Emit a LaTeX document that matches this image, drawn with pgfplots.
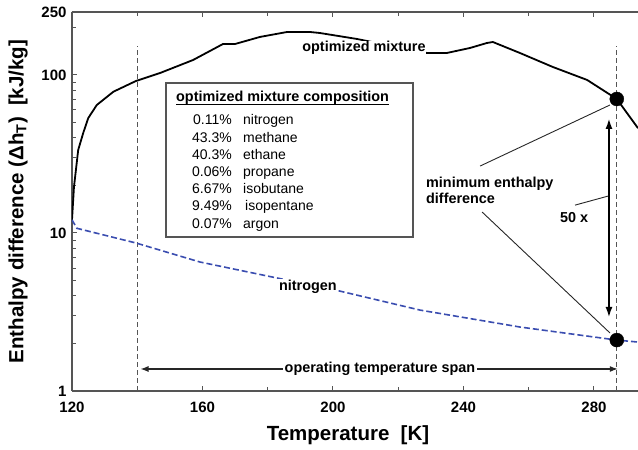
\documentclass[border=0pt]{standalone}
\usepackage{fontspec}
\setmainfont{Liberation Sans}
\usepackage{pgfplots}
\pgfplotsset{compat=1.18}
\usetikzlibrary{arrows.meta}

\definecolor{axisgray}{HTML}{555555}
\definecolor{ntwoblue}{HTML}{3A4DB0}

\newcommand{\annfont}{\fontsize{14.4}{16}\selectfont\bfseries}
\newcommand{\boxfont}{\fontsize{14}{16}\selectfont}

\begin{document}
\begin{tikzpicture}
\begin{semilogyaxis}[
  scale only axis, width=566pt, height=379pt,
  at={(0,0)}, anchor=south west,
  xmin=120, xmax=293.5, ymin=1, ymax=250,
  axis x line*=box, axis y line*=left,
  axis line style={axisgray, line width=1.2pt},
  tick style={axisgray, line width=1pt},
  major tick length=5pt, minor tick length=4pt,
  xtick={120,160,200,240,280},
  xticklabels={120,160,200,240,280},
  minor xtick={140,180,220,260},
  ytick={1,10,100,250},
  yticklabels={1,10,100,250},
  minor ytick={2,3,4,5,6,7,8,9,20,30,40,50,60,70,80,90,200},
  /pgf/number format/assume math mode=true,
  tick label style={font=\fontsize{15}{18}\selectfont\bfseries},
  yticklabel style={xshift=-2pt},
  xticklabel style={yshift=-7pt},
  every axis x label/.style={at={(axis description cs:0.4876,-0.1161)}, anchor=center},
  every axis y label/.style={at={(axis description cs:-0.0954,0.5)}, rotate=90, anchor=center},
  label style={font=\fontsize{20.5}{24}\selectfont\bfseries},
  xlabel={Temperature\hspace{0.55em}[K]},
  ylabel={Enthalpy difference (Δh\textsubscript{T})\hspace{0.55em}[kJ/kg]},
  clip=true,
]
% operating temperature limits
\addplot[axisgray, line width=0.9pt, dash pattern=on 5pt off 3pt] coordinates {(140,1) (140,152)};
\addplot[axisgray, line width=0.9pt, dash pattern=on 5pt off 3pt] coordinates {(287,1) (287,152)};

% optimized mixture
\addplot[black, line width=1.8pt] coordinates {
  (120,12.1) (120.6,19.5) (121.9,33.5) (123.5,43.3) (125.0,53.4)
  (127.6,64.5) (132.7,78.3) (139.6,91.5) (147.0,102.8) (157.1,124.2)
  (166.3,156.9) (170.0,156.9) (177.6,173.8) (185.9,186.8) (193.0,186.8)
  (196.0,184.1) (207.4,168.7) (228.8,137.6) (234.9,137.6) (242.0,148.0)
  (247.2,159.2) (249.0,161.5) (257.3,137.6) (267.4,112.2) (277.9,92.9)
  (287.0,70.4) (293.5,46.0)
};

% pure nitrogen
\addplot[ntwoblue, line width=1.6pt, dash pattern=on 6pt off 3pt] coordinates {
  (120,12.1) (121.5,10.7) (139.6,8.64) (159.2,6.55) (182.8,5.19)
  (200.6,4.36) (226.7,3.25) (257.3,2.54) (287,2.10) (293.5,2.04)
};

% minimum difference points
\addplot[only marks, mark=*, mark size=7pt, black] coordinates {(287,70.4) (287,2.10)};

% annotations
\node[fill=white, inner sep=0.5pt, font=\annfont] at (axis cs:209.5,148) {optimized mixture};
\node[fill=white, inner sep=1.5pt, font=\annfont] at (axis cs:192.3,4.55) {nitrogen};

\draw[black!85, line width=0.9pt] (axis cs:245.1,26.5) -- (axis cs:284.9,64.5);
\draw[black!85, line width=0.9pt] (axis cs:245.7,13.57) -- (axis cs:284.9,2.33);
\draw[black!85, line width=0.9pt] (axis cs:274.2,15.0) -- (axis cs:284.3,17.1);

\draw[black, line width=2.2pt, {Latex[length=11pt,width=7pt]}-{Latex[length=11pt,width=7pt]}]
  (axis cs:284.6,53.4) -- (axis cs:284.6,2.90);

\draw[black!85, line width=1.1pt, {Latex[length=8pt,width=6pt]}-{Latex[length=8pt,width=6pt]}]
  (axis cs:141,1.378) -- (axis cs:287.3,1.378);
\node[fill=white, inner sep=1.5pt, font=\annfont] at (axis cs:214.4,1.378) {operating temperature span};

\node[anchor=west, align=left, inner sep=0pt, font=\annfont] at (axis cs:228.5,18.7) {minimum enthalpy\\difference};
\node[font=\annfont, inner sep=0pt] at (axis cs:273.9,12.6) {50 x};
\end{semilogyaxis}

% composition box
\draw[axisgray, line width=1.2pt] (94pt,154pt) rectangle (341pt,308pt);
\node[anchor=base west, inner sep=0pt, font=\annfont] (ttl) at (104pt,289pt) {optimized mixture composition};
\draw[black, line width=0.9pt] ([yshift=-2pt]ttl.base west) -- ([yshift=-2pt]ttl.base east);
\foreach \p/\n/\yy/\dx in {0.11\%/nitrogen/266/0, 43.3\%/methane/248.8/0, 40.3\%/ethane/231.6/0,
    0.06\%/propane/214.4/0, 6.67\%/isobutane/197.2/0, 9.49\%/isopentane/180/2, 0.07\%/argon/162.8/0}{
  \node[anchor=base east, inner sep=0pt, font=\boxfont] at (160pt,\yy pt) {\p};
  \node[anchor=base west, inner sep=0pt, font=\boxfont] at (171pt+\dx pt,\yy pt) {\n};
}

\pgfresetboundingbox
\path (-72pt,-59pt) rectangle (566pt,391pt);
\end{tikzpicture}
\end{document}
